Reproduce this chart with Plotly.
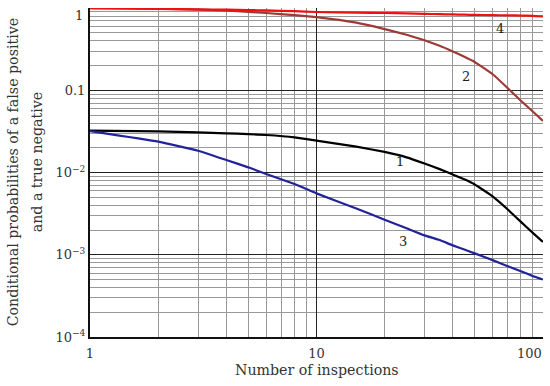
import math
import plotly.graph_objects as go

n_vals = [1, 2, 3, 4, 5, 6, 8, 10, 15, 20, 25, 30, 35, 40, 45, 50, 60, 70, 80, 90, 100]
curve1 = [0.0323, 0.0316, 0.0308, 0.0300, 0.0293, 0.0286, 0.0268, 0.0244, 0.0206, 0.0178, 0.0153, 0.0129, 0.0110, 0.00946, 0.00826, 0.00716, 0.00513, 0.00355, 0.00251, 0.00186, 0.00143]
curve2 = [1.0, 0.98, 0.955, 0.93, 0.90, 0.87, 0.82, 0.776, 0.664, 0.555, 0.474, 0.4055, 0.347, 0.2965, 0.256, 0.221, 0.1567, 0.106, 0.0745, 0.0555, 0.0425]
curve3 = [0.0318, 0.0237, 0.0184, 0.0142, 0.01156, 0.0096, 0.00724, 0.00558, 0.00366, 0.00267, 0.0021, 0.00172, 0.00151, 0.0013, 0.00116, 0.00104, 0.00086, 0.000726, 0.00063, 0.000553, 0.0005]
curve4 = [1.0, 0.975, 0.965, 0.955, 0.945, 0.935, 0.915, 0.895, 0.88, 0.87, 0.86, 0.85, 0.843, 0.836, 0.83, 0.826, 0.82, 0.815, 0.81, 0.804, 0.79]

curve_names = ["1", "2", "3", "4"]
label_x = [23.5, 45.8, 24.0, 64.4]
label_y = [0.01355, 0.147, 0.001435, 0.570]

y_tickvals = [1, 0.1, 0.01, 0.001, 0.0001]
y_ticktext = ["", "0.1", "10<sup>\u22122</sup>", "10<sup>\u22123</sup>", "10<sup>\u22124</sup>"]
x_tickvals = [1, 10, 100]
x_ticktext = ["1", "10", ""]
edge_labels = ["100", "1"]

x_title = "Number of inspections"
y_title_lines = ["Conditional probabilities of a false positive", "and a true negative"]

font_family = "DejaVu Serif"
text_color = "#333333"

fig = go.Figure()
series = [(curve1, "#000000"), (curve2, "#9e3a36"), (curve3, "#22229a"), (curve4, "#f01010")]
for (vals, col), name in zip(series, curve_names):
    fig.add_trace(go.Scatter(x=n_vals, y=vals, mode="lines", name=name, hoverinfo="skip",
                             line=dict(color=col, width=2.2, shape="spline", smoothing=0.3)))

for name, lx, ly in zip(curve_names, label_x, label_y):
    fig.add_annotation(x=math.log10(lx), y=math.log10(ly), xref="x", yref="y", text=name,
                       showarrow=False, xanchor="center", yanchor="middle",
                       font=dict(family=font_family, size=13, color="#222"))

# tick labels at the plot edges (kept inside the page as in the reference)
fig.add_annotation(x=1.0, y=0.0, xref="paper", yref="paper", text=edge_labels[0], showarrow=False,
                   xanchor="right", yanchor="middle", xshift=1, yshift=-16,
                   font=dict(family=font_family, size=13, color=text_color))
fig.add_annotation(x=0.0, y=1.0, xref="paper", yref="paper", text=edge_labels[1], showarrow=False,
                   xanchor="right", yanchor="middle", xshift=-5, yshift=-7,
                   font=dict(family=font_family, size=13, color=text_color))

fig.add_annotation(x=0.5, y=-0.1014, xref="paper", yref="paper", text=x_title, showarrow=False,
                   xanchor="center", yanchor="middle",
                   font=dict(family=font_family, size=14.2, color=text_color))
fig.add_annotation(x=-0.1693, y=0.5015, xref="paper", yref="paper", text=y_title_lines[0],
                   showarrow=False, textangle=-90, xanchor="center", yanchor="middle",
                   font=dict(family=font_family, size=14.2, color=text_color))
fig.add_annotation(x=-0.1163, y=0.5320, xref="paper", yref="paper", text=y_title_lines[1],
                   showarrow=False, textangle=-90, xanchor="center", yanchor="middle",
                   font=dict(family=font_family, size=14.2, color=text_color))

fig.update_layout(
    width=550, height=386,
    margin=dict(l=90, r=7, t=8, b=49),
    paper_bgcolor="white", plot_bgcolor="white",
    showlegend=False, hovermode=False,
    font=dict(family=font_family, size=13, color=text_color),
)
fig.update_xaxes(type="log", range=[0, 2.0005], tickvals=x_tickvals, ticktext=x_ticktext,
                 showgrid=True, gridcolor="#222", gridwidth=1,
                 showline=True, linecolor="#111", linewidth=2,
                 ticks="", ticklen=0, automargin=False, ticklabelstandoff=3,
                 minor=dict(showgrid=True, gridcolor="#999999", gridwidth=1, dtick="D1"),
                 zeroline=False)
fig.update_yaxes(type="log", range=[-4, 0.0005], tickvals=y_tickvals, ticktext=y_ticktext,
                 showgrid=True, gridcolor="#222", gridwidth=1,
                 showline=True, linecolor="#111", linewidth=2,
                 ticks="", ticklen=0, automargin=False,
                 minor=dict(showgrid=True, gridcolor="#999999", gridwidth=1, dtick="D1"),
                 zeroline=False)

fig.write_html("out.html", config={"displayModeBar": False, "staticPlot": True},
               post_script="document.body.style.margin='0';document.body.style.overflow='hidden';")
